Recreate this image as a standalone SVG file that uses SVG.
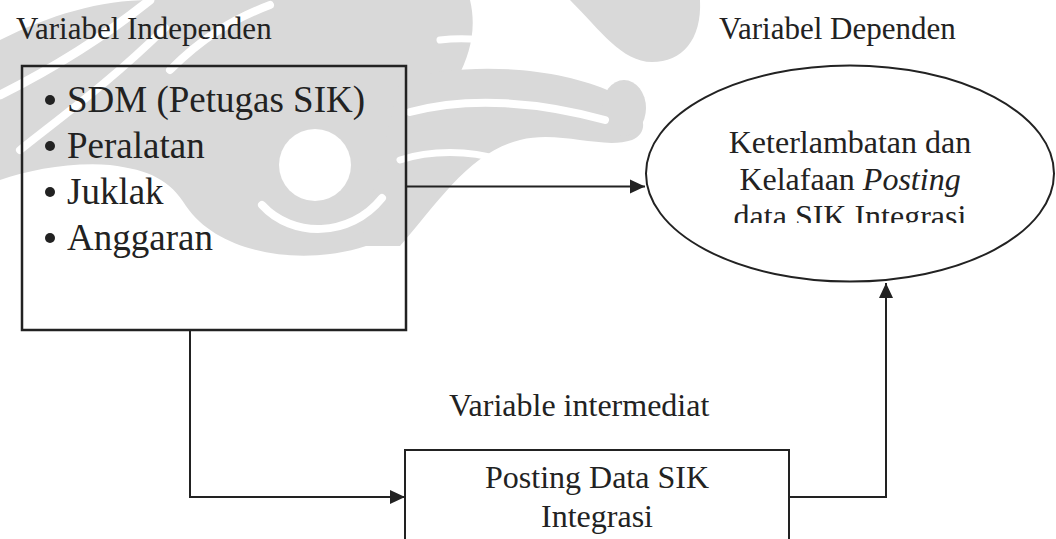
<svg xmlns="http://www.w3.org/2000/svg" width="1056" height="539" viewBox="0 0 1056 539">
  <style>
    .t { font-family: "Liberation Serif", "Times New Roman", serif; fill: #222; }
    .wm { fill: #d9d9d9; stroke: none; }
    .ws { fill: none; stroke: #ffffff; stroke-linecap: round; }
    .ln { fill: none; stroke: #222; stroke-width: 2; }
  </style>
  <defs>
    <marker id="arr" markerUnits="userSpaceOnUse" markerWidth="16" markerHeight="16" refX="15" refY="8" orient="auto">
      <path d="M0,1 L15,8 L0,15 Z" fill="#222"/>
    </marker>
    <clipPath id="ellclip">
      <rect x="640" y="60" width="420" height="163"/>
    </clipPath>
  </defs>
  <rect width="1056" height="539" fill="#ffffff"/>

  <!-- watermark -->
  <g id="watermark">
    <path class="wm" d="M0,40 C50,15 100,0 150,0 L470,0 C482,50 452,92 426,122 C406,162 416,216 366,246 C306,266 220,256 186,206 C170,180 150,170 110,165 C70,162 30,170 0,180 Z"/>
    <path class="wm" d="M400,80 C470,60 560,68 612,92 C645,105 652,132 632,140 C602,150 560,130 520,140 C470,152 440,200 400,246 L360,246 Z"/>
    <path class="wm" d="M570,0 L700,0 C702,40 682,62 652,62 C622,62 600,30 570,0 Z"/>
    <ellipse class="wm" cx="624" cy="108" rx="22" ry="28"/>
    <path class="ws" stroke-width="9" d="M0,95 C50,70 100,40 150,0"/>
    <path class="ws" stroke-width="8" d="M20,150 C60,118 110,82 165,28"/>
    <path class="ws" stroke-width="8" d="M170,70 C200,40 230,20 270,5"/>
    <path class="ws" stroke-width="8" d="M410,112 C470,96 540,102 605,120"/>
    <path class="ws" stroke-width="7" d="M440,40 C480,35 520,45 560,60"/>
    <path class="ws" stroke-width="8" d="M262,205 C292,238 350,238 382,198"/>
    <path class="ws" stroke-width="7" d="M400,160 C430,150 470,150 500,160"/>
    <circle cx="315" cy="165" r="36" fill="#ffffff"/>
  </g>

  <!-- labels -->
  <g id="labels">
    <text class="t" x="16" y="39" font-size="31">Variabel Independen</text>
    <text class="t" x="719" y="39" font-size="31">Variabel Dependen</text>
    <text class="t" x="449" y="416" font-size="32">Variable intermediat</text>
  </g>

  <!-- connectors -->
  <g id="connectors">
    <path class="ln" d="M406,186.5 H645" marker-end="url(#arr)"/>
    <path class="ln" d="M190,330 V497 H405" marker-end="url(#arr)"/>
    <path class="ln" d="M789,497 H886 V283" marker-end="url(#arr)"/>
  </g>

  <!-- independent variables box -->
  <g id="node-independen">
    <rect x="22" y="66" width="384" height="264" fill="none" stroke="#222" stroke-width="2.5"/>
    <circle cx="50" cy="100" r="5" fill="#222"/>
    <circle cx="50" cy="146" r="5" fill="#222"/>
    <circle cx="50" cy="192" r="5" fill="#222"/>
    <circle cx="50" cy="238" r="5" fill="#222"/>
    <text class="t" x="67" y="112" font-size="37">SDM (Petugas SIK)</text>
    <text class="t" x="67" y="158" font-size="37">Peralatan</text>
    <text class="t" x="67" y="204" font-size="37">Juklak</text>
    <text class="t" x="67" y="250" font-size="37">Anggaran</text>
  </g>

  <!-- dependent variable ellipse -->
  <g id="node-dependen">
    <ellipse cx="850" cy="173.5" rx="204" ry="108" fill="none" stroke="#222" stroke-width="2"/>
    <g clip-path="url(#ellclip)">
      <text class="t" x="850" y="153" font-size="32" text-anchor="middle">Keterlambatan dan</text>
      <text class="t" x="850" y="190" font-size="32" text-anchor="middle">Kelafaan <tspan font-style="italic">Posting</tspan></text>
      <text class="t" x="850" y="227" font-size="32" text-anchor="middle">data SIK Integrasi</text>
    </g>
  </g>

  <!-- intermediate variable box -->
  <g id="node-intermediat">
    <rect x="405" y="450" width="384" height="110" fill="none" stroke="#222" stroke-width="2"/>
    <text class="t" x="597" y="488" font-size="32" text-anchor="middle">Posting Data SIK</text>
    <text class="t" x="597" y="527" font-size="32" text-anchor="middle">Integrasi</text>
  </g>
</svg>
